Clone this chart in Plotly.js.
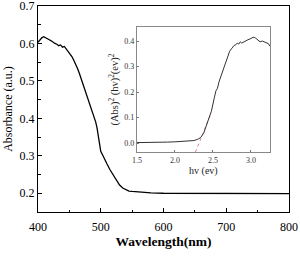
<!DOCTYPE html>
<html><head><meta charset="utf-8">
<script src="https://cdn.plot.ly/plotly-3.0.1.min.js"></script>
<style>html,body{margin:0;padding:0;background:#fff}#c{width:300px;height:256px}</style>
</head><body><div id="c"></div>
<script>
const wavelength = [400,403,406,409,412,415,418,421,424,427,430,433,436,439,442,445,448,451,454,457,460,463,466,469,472,475,478,481,484,487,490,492,494,496,498,500,503,506,510,515,520,525,530,535,540,545,550,560,570,580,600,620,640,660,680,700,720,740,760,780,800];
const absorbance = [0.603,0.610,0.615,0.618,0.616,0.613,0.610,0.607,0.603,0.600,0.598,0.594,0.596,0.590,0.592,0.585,0.580,0.572,0.565,0.555,0.545,0.533,0.520,0.505,0.490,0.475,0.460,0.447,0.432,0.418,0.402,0.390,0.375,0.350,0.325,0.312,0.302,0.293,0.278,0.262,0.248,0.233,0.222,0.214,0.209,0.206,0.205,0.203,0.202,0.201,0.200,0.200,0.199,0.200,0.200,0.200,0.199,0.199,0.200,0.199,0.199];
const energy = [1.50,1.60,1.70,1.80,1.90,2.00,2.10,2.20,2.25,2.30,2.34,2.38,2.42,2.45,2.48,2.50,2.52,2.54,2.56,2.58,2.60,2.62,2.64,2.66,2.68,2.70,2.72,2.75,2.78,2.80,2.82,2.84,2.86,2.88,2.90,2.93,2.96,3.00,3.03,3.06,3.09,3.12,3.15,3.18,3.21,3.23,3.25];
const tauc = [0.002,0.002,0.003,0.003,0.004,0.005,0.006,0.008,0.010,0.015,0.022,0.040,0.070,0.100,0.125,0.160,0.180,0.205,0.215,0.240,0.258,0.275,0.295,0.315,0.330,0.345,0.360,0.372,0.383,0.385,0.392,0.388,0.397,0.392,0.396,0.400,0.405,0.410,0.415,0.412,0.405,0.397,0.400,0.395,0.393,0.390,0.380];
const fitX = [2.27, 2.47];
const fitY = [-0.035, 0.112];
const mainYTicks = [0.2,0.3,0.4,0.5,0.6,0.7];
const mainYLabels = ['0.2','0.3','0.4','0.5','0.6','0.7'];

const serif = 'Liberation Serif, Times New Roman, serif';
const data = [
  {x: wavelength, y: absorbance, type:'scatter', mode:'lines', line:{color:'#000', width:1.3}, xaxis:'x', yaxis:'y'},
  {x: fitX, y: fitY, type:'scatter', mode:'lines', line:{color:'#e0607a', width:0.8, dash:'dot'}, xaxis:'x2', yaxis:'y2'},
  {x: energy, y: tauc, type:'scatter', mode:'lines', line:{color:'#333', width:1}, xaxis:'x2', yaxis:'y2'}
];
const layout = {
  width:300, height:256, showlegend:false,
  paper_bgcolor:'#fff', plot_bgcolor:'#fff',
  margin:{l:38, r:11, t:6, b:44},
  font:{family:serif, color:'#000'},
  xaxis:{range:[400,800], tickvals:[400,500,600,700,800], ticktext:['400','500','600','700','800'], ticks:'inside', ticklen:4, tickcolor:'#000',
    ticklabelstandoff:3,
    minor:{dtick:50, tick0:0, ticks:'inside', ticklen:2.5, tickcolor:'#000'},
    showline:true, mirror:true, linecolor:'#000', linewidth:1.2, showgrid:false, zeroline:false, automargin:false,
    tickfont:{size:12, family:serif, color:'#000'}, title:{text:'<b>Wavelength(nm)</b>', font:{size:13.5, family:serif}, standoff:3}},
  yaxis:{range:[0.15,0.7], tickvals:mainYTicks, ticktext:mainYLabels, ticks:'inside', ticklen:4, tickcolor:'#000',
    ticklabeloverflow:'allow', automargin:false,
    minor:{dtick:0.05, tick0:0, ticks:'inside', ticklen:2.5, tickcolor:'#000'},
    showline:true, mirror:true, linecolor:'#000', linewidth:1.2, showgrid:false, zeroline:false,
    tickfont:{size:12, family:serif, color:'#000'}, title:{text:'Absorbance (a.u.)', font:{size:12, family:serif}, standoff:4}},
  xaxis2:{domain:[0.394,0.924], anchor:'y2', range:[1.5,3.25], tickvals:[1.5,2.0,2.5,3.0], ticktext:['1.5','2.0','2.5','3.0'],
    ticks:'inside', ticklen:2, tickcolor:'#777', showline:true, mirror:true, linecolor:'#888', linewidth:1, showgrid:false, zeroline:false,
    tickfont:{size:8, family:serif, color:'#333'}, title:{text:'hv (ev)', font:{size:10, family:serif, color:'#222'}, standoff:2}},
  yaxis2:{domain:[0.291,0.898], anchor:'x2', range:[-0.035,0.455], tickvals:[0,0.1,0.2,0.3,0.4], ticktext:['0.0','0.1','0.2','0.3','0.4'],
    ticks:'inside', ticklen:2, tickcolor:'#777', showline:true, mirror:true, linecolor:'#888', linewidth:1, showgrid:false, zeroline:false,
    tickfont:{size:8, family:serif, color:'#333'}, title:{text:'(Abs)<sup>2</sup> (hv)<sup>2</sup>(ev)<sup>2</sup>', font:{size:10.5, family:serif, color:'#222'}, standoff:3}}
};
Plotly.newPlot('c', data, layout, {staticPlot:true, displayModeBar:false});
</script></body></html>
